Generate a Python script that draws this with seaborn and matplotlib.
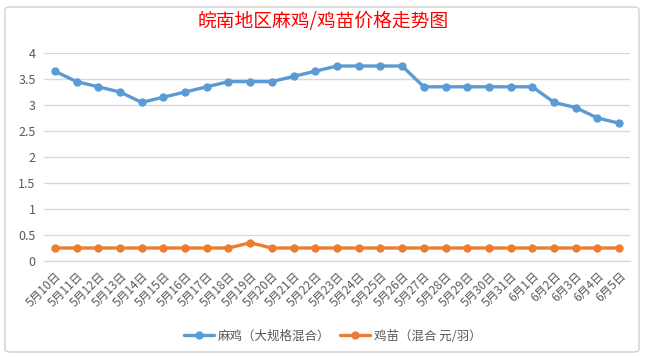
import matplotlib
matplotlib.use("Agg")
import matplotlib.pyplot as plt
import seaborn as sns
import pandas as pd
import numpy as np
from matplotlib.patches import FancyBboxPatch
from matplotlib.ticker import FixedLocator, FuncFormatter

dates = ["5月10日", "5月11日", "5月12日", "5月13日", "5月14日", "5月15日", "5月16日",
         "5月17日", "5月18日", "5月19日", "5月20日", "5月21日", "5月22日", "5月23日",
         "5月24日", "5月25日", "5月26日", "5月27日", "5月28日", "5月29日", "5月30日",
         "5月31日", "6月1日", "6月2日", "6月3日", "6月4日", "6月5日"]
majia = [3.65, 3.45, 3.35, 3.25, 3.05, 3.15, 3.25, 3.35, 3.45, 3.45, 3.45, 3.55, 3.65, 3.75,
         3.75, 3.75, 3.75, 3.35, 3.35, 3.35, 3.35, 3.35, 3.35, 3.05, 2.95, 2.75, 2.65]
jimiao = [0.25, 0.25, 0.25, 0.25, 0.25, 0.25, 0.25, 0.25, 0.25, 0.35, 0.25, 0.25, 0.25, 0.25,
          0.25, 0.25, 0.25, 0.25, 0.25, 0.25, 0.25, 0.25, 0.25, 0.25, 0.25, 0.25, 0.25]
series_names = ["麻鸡（大规格混合）", "鸡苗（混合 元/羽）"]
title = "皖南地区麻鸡/鸡苗价格走势图"
yticks = [0, 0.5, 1, 1.5, 2, 2.5, 3, 3.5, 4]

sns.set_theme(style="white")
plt.rcParams['font.family'] = ['Noto Sans CJK SC', 'DejaVu Sans']

df = pd.DataFrame({
    "date": dates * 2,
    "value": majia + jimiao,
    "series": [series_names[0]] * len(dates) + [series_names[1]] * len(dates),
})

W, H = 646, 358
fig = plt.figure(figsize=(W / 100, H / 100), dpi=100)

# chart border
border = FancyBboxPatch((5 / W, 6 / H), 634 / W, 345 / H,
                        boxstyle="round,pad=0,rounding_size=0.008",
                        transform=fig.transFigure, facecolor="none",
                        edgecolor="#d0d0d0", linewidth=1.0, zorder=-1)
fig.patches.append(border)

ax = fig.add_axes([44 / W, 1 - 261 / H, (630 - 44) / W, (261 - 53) / H])
ax.set_facecolor("none")

palette = {series_names[0]: "#5B9BD5", series_names[1]: "#ED7D31"}
sns.lineplot(data=df, x="date", y="value", hue="series", palette=palette,
             marker="o", markersize=6, markeredgewidth=0, linewidth=2.4,
             sort=False, ax=ax, legend=True)

ax.set_xlim(-0.5, len(dates) - 0.5)
ax.set_ylim(0, 4)
ax.set_yticks(yticks)
ax.yaxis.set_major_formatter(FuncFormatter(lambda v, p: f"{v:g}"))
ax.grid(axis="y", color="#d9d9d9", linewidth=1)
ax.set_axisbelow(True)
for s in ["top", "right", "left"]:
    ax.spines[s].set_visible(False)
ax.spines["bottom"].set_color("#d9d9d9")
ax.spines["bottom"].set_linewidth(1)
ax.set_xlabel("")
ax.set_ylabel("")

ax.tick_params(axis="y", length=0, labelsize=9, labelcolor="#595959", pad=6)
ax.set_xticks(range(len(dates)))
ax.set_xticklabels(dates, rotation=45, ha="right", rotation_mode="anchor",
                   fontsize=8.5, color="#595959")
ax.tick_params(axis="x", which="major", length=0, pad=6)
ax.xaxis.set_minor_locator(FixedLocator(np.arange(-0.5, len(dates), 1.0)))
ax.tick_params(axis="x", which="minor", length=5, color="#d9d9d9", width=1)

fig.text(0.5, 1 - 22 / H, title, color="#FF0000", fontsize=13.5,
         ha="center", va="center")

leg = ax.legend(loc="center", bbox_to_anchor=(0.5 - 4 / 586, (261 - 336) / 208),
                ncol=2, frameon=False, fontsize=9, handlelength=2.4,
                columnspacing=0.8, handletextpad=0.3)
for t in leg.get_texts():
    t.set_color("#595959")

fig.savefig("out.png", dpi=100)
